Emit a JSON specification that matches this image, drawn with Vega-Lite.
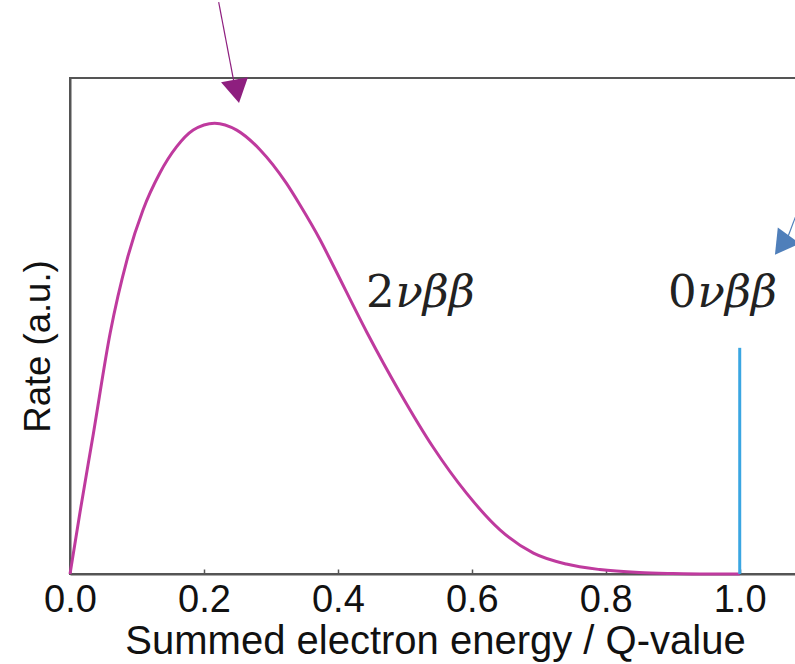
{
  "$schema": "https://vega.github.io/schema/vega-lite/v6.json",
  "autosize": {"type": "none"},
  "padding": {"left": 70, "top": 78, "right": 0, "bottom": 90},
  "width": 730,
  "height": 496,
  "background": "white",
  "config": {
    "view": {"stroke": "#555555", "strokeWidth": 2},
    "axis": {"grid": false}
  },
  "datasets": {
    "curve": [
      {"x": 0.0, "y": 0.0},
      {"x": 0.015, "y": 0.125},
      {"x": 0.035, "y": 0.284},
      {"x": 0.06, "y": 0.486},
      {"x": 0.085, "y": 0.633},
      {"x": 0.109, "y": 0.734},
      {"x": 0.134, "y": 0.808},
      {"x": 0.159, "y": 0.861},
      {"x": 0.184, "y": 0.895},
      {"x": 0.216, "y": 0.909},
      {"x": 0.249, "y": 0.895},
      {"x": 0.284, "y": 0.855},
      {"x": 0.323, "y": 0.788},
      {"x": 0.343, "y": 0.745},
      {"x": 0.373, "y": 0.675},
      {"x": 0.393, "y": 0.622},
      {"x": 0.443, "y": 0.488},
      {"x": 0.493, "y": 0.365},
      {"x": 0.542, "y": 0.256},
      {"x": 0.592, "y": 0.163},
      {"x": 0.642, "y": 0.089},
      {"x": 0.692, "y": 0.042},
      {"x": 0.741, "y": 0.02},
      {"x": 0.791, "y": 0.009},
      {"x": 0.85, "y": 0.003},
      {"x": 0.9, "y": 0.001},
      {"x": 0.95, "y": 0.0},
      {"x": 1.0, "y": 0.0}
    ],
    "peak": [{"x": 1.0, "y": 0.0, "y2": 0.456}],
    "arrow1": [{"x": 0.222, "y": 1.153, "x2": 0.245, "y2": 0.99}],
    "head1": [{"x": 0.249, "y": 0.973}],
    "arrow2": [{"x": 1.104, "y": 0.794, "x2": 1.072, "y2": 0.68}],
    "head2": [{"x": 1.063, "y": 0.663}],
    "num": [{"x": 0.442, "y": 0.538, "label": "2"}, {"x": 0.893, "y": 0.538, "label": "0"}],
    "greek": [{"x": 0.486, "y": 0.538, "label": "νββ"}, {"x": 0.937, "y": 0.538, "label": "νββ"}]
  },
  "encoding": {
    "x": {
      "field": "x", "type": "quantitative",
      "scale": {"domain": [0, 1.09], "nice": false, "zero": false},
      "axis": {
        "values": [0, 0.2, 0.4, 0.6, 0.8, 1.0],
        "format": ".1f",
        "title": "Summed electron energy / Q-value",
        "domainColor": "#555555", "domainWidth": 2,
        "tickColor": "#555555", "tickWidth": 1.5, "tickSize": -5,
        "labelFont": "Liberation Sans", "labelFontSize": 38, "labelColor": "#111111",
        "labelPadding": 12, "labelFlush": false, "labelOverlap": false,
        "titleFont": "Liberation Sans", "titleFontSize": 40, "titleFontWeight": "normal",
        "titleColor": "#111111", "titlePadding": 2, "titleAnchor": "middle"
      }
    },
    "y": {
      "field": "y", "type": "quantitative",
      "scale": {"domain": [0, 1], "nice": false, "zero": false},
      "axis": {
        "ticks": false, "labels": false,
        "title": "Rate (a.u.)",
        "domainColor": "#555555", "domainWidth": 2,
        "titleFont": "Liberation Sans", "titleFontSize": 36.5, "titleFontWeight": "normal",
        "titleColor": "#111111", "titlePadding": 13, "titleY": 268
      }
    }
  },
  "layer": [
    {
      "data": {"name": "curve"},
      "mark": {"type": "line", "color": "#bf3a9e", "strokeWidth": 3, "interpolate": "monotone"}
    },
    {
      "data": {"name": "peak"},
      "mark": {"type": "rule", "color": "#3aa6e2", "strokeWidth": 3},
      "encoding": {"y2": {"field": "y2"}}
    },
    {
      "data": {"name": "arrow1"},
      "mark": {"type": "rule", "color": "#8e1f7f", "strokeWidth": 1.2},
      "encoding": {"x2": {"field": "x2"}, "y2": {"field": "y2"}}
    },
    {
      "data": {"name": "head1"},
      "mark": {"type": "point", "shape": "triangle-down", "filled": true, "color": "#8e1f7f", "opacity": 1, "size": 750, "angle": -11}
    },
    {
      "data": {"name": "arrow2"},
      "mark": {"type": "rule", "color": "#4f7fba", "strokeWidth": 1.2},
      "encoding": {"x2": {"field": "x2"}, "y2": {"field": "y2"}}
    },
    {
      "data": {"name": "head2"},
      "mark": {"type": "point", "shape": "triangle-down", "filled": true, "color": "#4f7fba", "opacity": 1, "size": 750, "angle": 36}
    },
    {
      "data": {"name": "num"},
      "mark": {"type": "text", "align": "left", "baseline": "alphabetic", "font": "DejaVu Serif", "fontSize": 45, "color": "#222222"},
      "encoding": {"text": {"field": "label"}}
    },
    {
      "data": {"name": "greek"},
      "mark": {"type": "text", "align": "left", "baseline": "alphabetic", "font": "DejaVu Serif", "fontStyle": "italic", "fontSize": 45, "color": "#222222"},
      "encoding": {"text": {"field": "label"}}
    }
  ]
}
